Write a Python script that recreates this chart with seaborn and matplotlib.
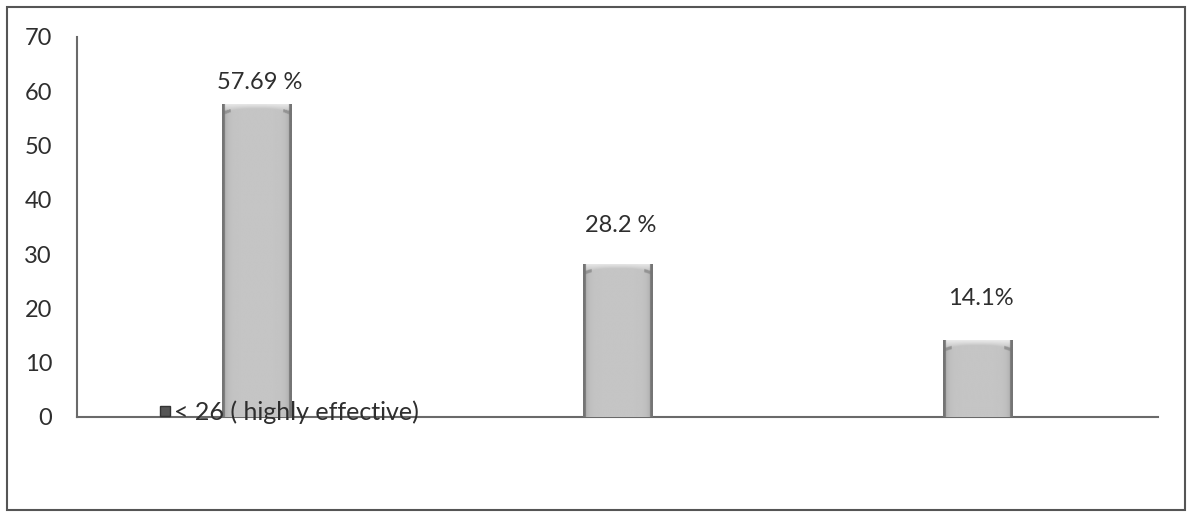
import numpy as np
import pandas as pd
import matplotlib
matplotlib.use("Agg")
import matplotlib.pyplot as plt
from matplotlib.patches import Rectangle
from matplotlib.lines import Line2D
import seaborn as sns

# Data
categories = ["< 26", "26 - 30", "> 30"]
series_name = "< 26 ( highly effective)"
values = [57.69, 28.2, 14.1]
value_labels = ["57.69 %", "28.2 %", "14.1%"]
y_ticks = [0, 10, 20, 30, 40, 50, 60, 70]

sns.set_theme(style="white")
plt.rcParams["font.family"] = ["Lato", "DejaVu Sans"]

df = pd.DataFrame({"category": categories, "value": values})

fig = plt.figure(figsize=(11.87, 5.15), dpi=100)
ax = fig.add_axes([0.0649, 0.1903, 0.9107, 0.7379])

sns.barplot(data=df, x="category", y="value", color="#c2c2c2",
            width=0.194, saturation=1, edgecolor="none", linewidth=0, ax=ax)

ax.set_xlim(-0.5, 2.5)
ax.set_ylim(0, 70)
ax.set_autoscale_on(False)

# Shading for each bar: darker sides, light bevel along the top with curved corners
ncol, nrow = 120, 500
cols = np.linspace(-1, 1, ncol)
side_shade = 0.77 - 0.14 * np.abs(cols) ** 8
bevel_units = 1.9
for patch in list(ax.patches):
    x0, y0 = patch.get_x(), patch.get_y()
    w, h = patch.get_width(), patch.get_height()
    depth = np.linspace(0, h, nrow)[:, None]          # distance below the top
    # bevel is deeper near the sides, so its lower edge curves up into the corners
    local = bevel_units * (0.5 + 0.5 * np.abs(cols[None, :]) ** 3)
    lift = np.clip(1 - depth / local, 0, 1) ** 0.8
    img = side_shade[None, :] * (1 - lift) + 0.92 * lift
    corner = (np.abs(depth - local) < 0.3) & (np.abs(cols[None, :]) > 0.75)
    img = np.where(corner, 0.58, img)
    img = np.where(np.abs(cols[None, :]) > 0.93, 0.46, img)
    ax.imshow(img, cmap="gray", vmin=0, vmax=1, aspect="auto", origin="upper",
              extent=(x0, x0 + w, y0, y0 + h), zorder=2,
              interpolation="bilinear").set_clip_path(patch)

# Value labels above bars
label_offsets = [15, 28, 30]
for patch, lab, off in zip(ax.patches[:3], value_labels, label_offsets):
    cx = patch.get_x() + patch.get_width() / 2
    ax.annotate(lab, (cx, patch.get_height()), xytext=(2, off),
                textcoords="offset points", ha="center", va="center",
                fontsize=17, color="#2e2e2e")

ax.set_yticks(y_ticks)
ax.set_yticklabels([str(t) for t in y_ticks], fontsize=17, color="#2e2e2e")
ax.tick_params(axis="y", length=0, pad=18)
ax.set_xticks([])
ax.set_xlabel("")
ax.set_ylabel("")

for side in ["top", "right"]:
    ax.spines[side].set_visible(False)
ax.spines["left"].set_color("#6a6a6a")
ax.spines["bottom"].set_color("#6a6a6a")
ax.spines["left"].set_linewidth(1.5)
ax.spines["bottom"].set_linewidth(1.5)
ax.spines["bottom"].set_zorder(0.5)

# Series legend sitting on the baseline
handle = Line2D([], [], marker="s", linestyle="none", markersize=7.5,
                markerfacecolor="#555555", markeredgecolor="#333333")
leg = ax.legend([handle], [series_name], loc="center left",
                bbox_to_anchor=(0.063, 0.012), frameon=False, fontsize=18,
                handletextpad=0.05, borderpad=0, handlelength=0.6)
for t in leg.get_texts():
    t.set_color("#2e2e2e")
leg.set_zorder(10)

# Chart border
fig.patches.append(Rectangle((0.0062, 0.0097), 0.9920, 0.9767, transform=fig.transFigure,
                             fill=False, edgecolor="#555555", linewidth=1.5))

fig.savefig("out.png", dpi=100)
